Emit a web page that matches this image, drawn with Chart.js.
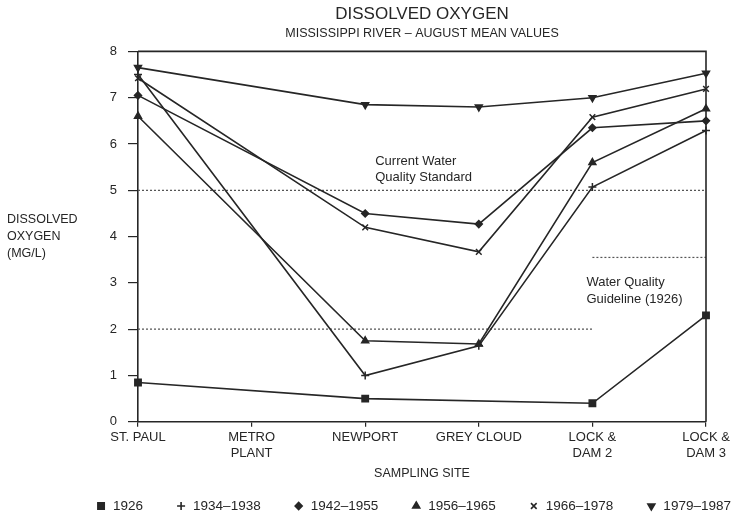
<!DOCTYPE html>
<html>
<head>
<meta charset="utf-8">
<script src="https://cdn.jsdelivr.net/npm/chart.js"></script>
<style>
  body { margin: 0; background: #fff; }
</style>
</head>
<body>
<canvas id="chart" width="747" height="517"></canvas>
<script>
// sampling sites along the river (x axis)
const sites = ['ST. PAUL', ['METRO', 'PLANT'], 'NEWPORT', 'GREY CLOUD', ['LOCK &', 'DAM 2'], ['LOCK &', 'DAM 3']];
const periods = ['1926', '1934–1938', '1942–1955', '1956–1965', '1966–1978', '1979–1987'];

// August mean dissolved oxygen, mg/L (null = not sampled)
const do1926 = [0.85, null, 0.5, null, 0.4, 2.3];
const do1934 = [7.5, null, 1.0, 1.64, 5.07, 6.29];
const do1942 = [7.05, null, 4.5, 4.27, 6.35, 6.5];
const do1956 = [6.6, null, 1.75, 1.68, 5.6, 6.76];
const do1966 = [7.42, null, 4.2, 3.67, 6.58, 7.19];
const do1979 = [7.65, null, 6.85, 6.8, 7.0, 7.53];

// reference levels
const currentStandard = [5, 5, 5, 5, 5, 5];
const guideline1926Low = [2, 2, 2, 2, 2, null];
const guideline1926High = [null, null, null, null, 3.55, 3.55];

const ink = '#262626';
const fontFamily = '"Liberation Sans", Arial, Helvetica, sans-serif';
Chart.defaults.font.family = fontFamily;
Chart.defaults.color = ink;

function series(label, data, style, radius, rotation) {
    return {
        label: label,
        data: data,
        borderColor: ink,
        borderWidth: 1.6,
        pointStyle: style,
        pointRadius: radius,
        pointRotation: rotation || 0,
        pointBackgroundColor: ink,
        pointBorderColor: ink,
        pointBorderWidth: 1.5,
        spanGaps: true,
        tension: 0,
        order: 1
    };
}

function guide(data) {
    return {
        label: 'guide',
        guide: true,
        data: data,
        borderColor: '#555',
        borderWidth: 1.2,
        borderDash: [2, 2],
        pointRadius: 0,
        spanGaps: false,
        order: 10
    };
}

const extras = {
    id: 'extras',
    afterDraw(chart) {
        const {ctx, chartArea: a, scales: {x, y}} = chart;
        ctx.save();

        // top and right frame
        ctx.strokeStyle = ink;
        ctx.lineWidth = 1.6;
        ctx.beginPath();
        ctx.moveTo(a.left, a.top);
        ctx.lineTo(a.right, a.top);
        ctx.lineTo(a.right, a.bottom);
        ctx.stroke();

        // notes
        ctx.fillStyle = ink;
        ctx.textBaseline = 'middle';
        ctx.textAlign = 'left';
        ctx.font = '13px ' + fontFamily;
        ctx.fillText('Current Water', x.getPixelForValue(2) + 10, y.getPixelForValue(5.63));
        ctx.fillText('Quality Standard', x.getPixelForValue(2) + 10, y.getPixelForValue(5.27));
        ctx.fillText('Water Quality', x.getPixelForValue(4) - 6, y.getPixelForValue(3.0));
        ctx.fillText('Guideline (1926)', x.getPixelForValue(4) - 6, y.getPixelForValue(2.64));

        // y axis title, horizontal at the left
        ctx.font = '12.5px ' + fontFamily;
        ['DISSOLVED', 'OXYGEN', '(MG/L)'].forEach((t, i) => ctx.fillText(t, 7, 220 + i * 17));

        // legend
        const list = chart.data.datasets.filter(d => !d.guide);
        ctx.font = '13.5px ' + fontFamily;
        const mk = 8, mg = 8, gap = 34;
        const widths = list.map(d => mk + mg + ctx.measureText(d.label).width);
        const total = widths.reduce((s, w) => s + w, 0) + gap * (list.length - 1);
        let lx = 414 - total / 2;
        const ly = chart.height - 11;
        list.forEach((d, i) => {
            ctx.fillStyle = ink;
            ctx.strokeStyle = ink;
            Chart.helpers.drawPoint(ctx, {
                pointStyle: d.pointStyle,
                rotation: d.pointRotation,
                radius: d.pointRadius,
                borderWidth: d.pointBorderWidth
            }, lx + mk / 2, ly);
            ctx.fillStyle = ink;
            ctx.fillText(d.label, lx + mk + mg, ly);
            lx += widths[i] + gap;
        });

        ctx.restore();
    }
};

new Chart(document.getElementById('chart'), {
    type: 'line',
    data: {
        labels: sites,
        datasets: [
            series(periods[0], do1926, 'rect', 4.5),
            series(periods[1], do1934, 'cross', 4),
            series(periods[2], do1942, 'rectRot', 3.5),
            series(periods[3], do1956, 'triangle', 4),
            series(periods[4], do1966, 'crossRot', 4),
            series(periods[5], do1979, 'triangle', 4, 180),
            guide(currentStandard),
            guide(guideline1926Low),
            guide(guideline1926High)
        ]
    },
    options: {
        responsive: false,
        animation: false,
        devicePixelRatio: 1,
        layout: { padding: { left: 0, right: 41, top: 0, bottom: 34 } },
        plugins: {
            legend: { display: false },
            tooltip: { enabled: false },
            title: {
                display: true,
                text: 'DISSOLVED OXYGEN',
                fullSize: false,
                color: ink,
                font: { size: 17, weight: 'normal' },
                padding: { top: 4, bottom: 0 }
            },
            subtitle: {
                display: true,
                text: 'MISSISSIPPI RIVER – AUGUST MEAN VALUES',
                fullSize: false,
                color: ink,
                font: { size: 12.5, weight: 'normal' },
                padding: { top: 2, bottom: 10 }
            }
        },
        scales: {
            x: {
                type: 'category',
                offset: false,
                grid: { drawOnChartArea: false, tickLength: 5, color: ink, lineWidth: 1.2 },
                border: { display: true, color: ink, width: 1.6 },
                ticks: { color: ink, font: { size: 13 }, padding: 3, maxRotation: 0, autoSkip: false },
                title: {
                    display: true,
                    text: 'SAMPLING SITE',
                    color: ink,
                    font: { size: 12.5 },
                    padding: { top: 2, bottom: 2 }
                }
            },
            y: {
                min: 0,
                max: 8,
                grid: { drawOnChartArea: false, tickLength: 10, color: ink, lineWidth: 1.2 },
                border: { display: true, color: ink, width: 1.6 },
                ticks: { stepSize: 1, color: ink, font: { size: 13 }, padding: 11 },
                afterFit(scale) { scale.width = 138; }
            }
        }
    },
    plugins: [extras]
});
</script>
</body>
</html>
